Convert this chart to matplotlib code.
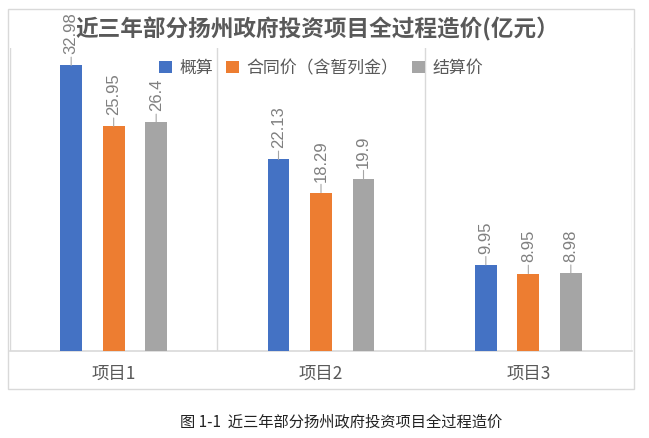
import matplotlib
matplotlib.use("Agg")
import matplotlib.pyplot as plt
from matplotlib.patches import Patch, Rectangle
import numpy as np

plt.rcParams['font.family'] = ['Noto Sans CJK SC', 'DejaVu Sans']

categories = ["项目1", "项目2", "项目3"]
series_names = ["概算", "合同价（含暂列金）", "结算价"]
gaisuan = [32.98, 22.13, 9.95]
hetong = [25.95, 18.29, 8.95]
jiesuan = [26.4, 19.9, 8.98]
series_values = [gaisuan, hetong, jiesuan]
colors = ["#4472C4", "#ED7D31", "#A5A5A5"]
title = "近三年部分扬州政府投资项目全过程造价(亿元）"
caption = "图 1-1  近三年部分扬州政府投资项目全过程造价"

W, H = 649, 438
fig = plt.figure(figsize=(W / 100, H / 100), dpi=100)

# outer chart frame
fig.patches.append(Rectangle((8 / W, 1 - 389 / H), (634 - 8) / W, (389 - 9) / H,
                             transform=fig.transFigure, fill=False,
                             edgecolor="#D9D9D9", lw=1.0))

ax = fig.add_axes([10 / W, 1 - 351 / H, (632 - 10) / W, (351 - 48) / H])
ax.set_xlim(-0.5, 2.5)
ax.set_ylim(0, 35)
for s in ax.spines.values():
    s.set_visible(False)
ax.set_yticks([])
ax.set_xticks(range(3))
ax.set_xticklabels(categories, fontsize=12.5, color="#595959")
ax.tick_params(axis="x", length=0, pad=10)
for xv in [-0.5, 0.5, 1.5, 2.5]:
    ax.axvline(xv, color="#D9D9D9", lw=1.0, zorder=0)
ax.axhline(0, color="#D9D9D9", lw=1.2, zorder=1, clip_on=False)

x = np.arange(len(categories))
offsets = [-0.205, 0.0, 0.205]
width = 0.106
for vals, off, c in zip(series_values, offsets, colors):
    bars = ax.bar(x + off, vals, width=width, color=c, zorder=2)
    for b, v in zip(bars, vals):
        ax.annotate(f"{v:g}", xy=(b.get_x() + b.get_width() / 2, v),
                    xytext=(0, 8), textcoords="offset points",
                    rotation=90, ha="center", va="bottom",
                    fontsize=12, color="#808080", family="Liberation Sans",
                    annotation_clip=False,
                    arrowprops=dict(arrowstyle="-", color="#A6A6A6", lw=0.8,
                                    shrinkA=0, shrinkB=0))

fig.text(317 / W, 1 - 29 / H, title, ha="center", va="center",
         fontsize=16.3, fontweight="bold", color="#595959")

handles = [Patch(facecolor=c, edgecolor="none") for c in colors]
fig.legend(handles, series_names, loc="center", bbox_to_anchor=(321 / W, 1 - 68 / H),
           ncol=3, frameon=False, fontsize=12.2, labelcolor="#595959",
           handlelength=0.75, handleheight=0.75, handletextpad=0.45,
           columnspacing=0.8, borderpad=0)

fig.text(341 / W, 1 - 422 / H, caption, ha="center", va="center",
         fontsize=11, color="#222222")

fig.savefig("out.png", dpi=100)
